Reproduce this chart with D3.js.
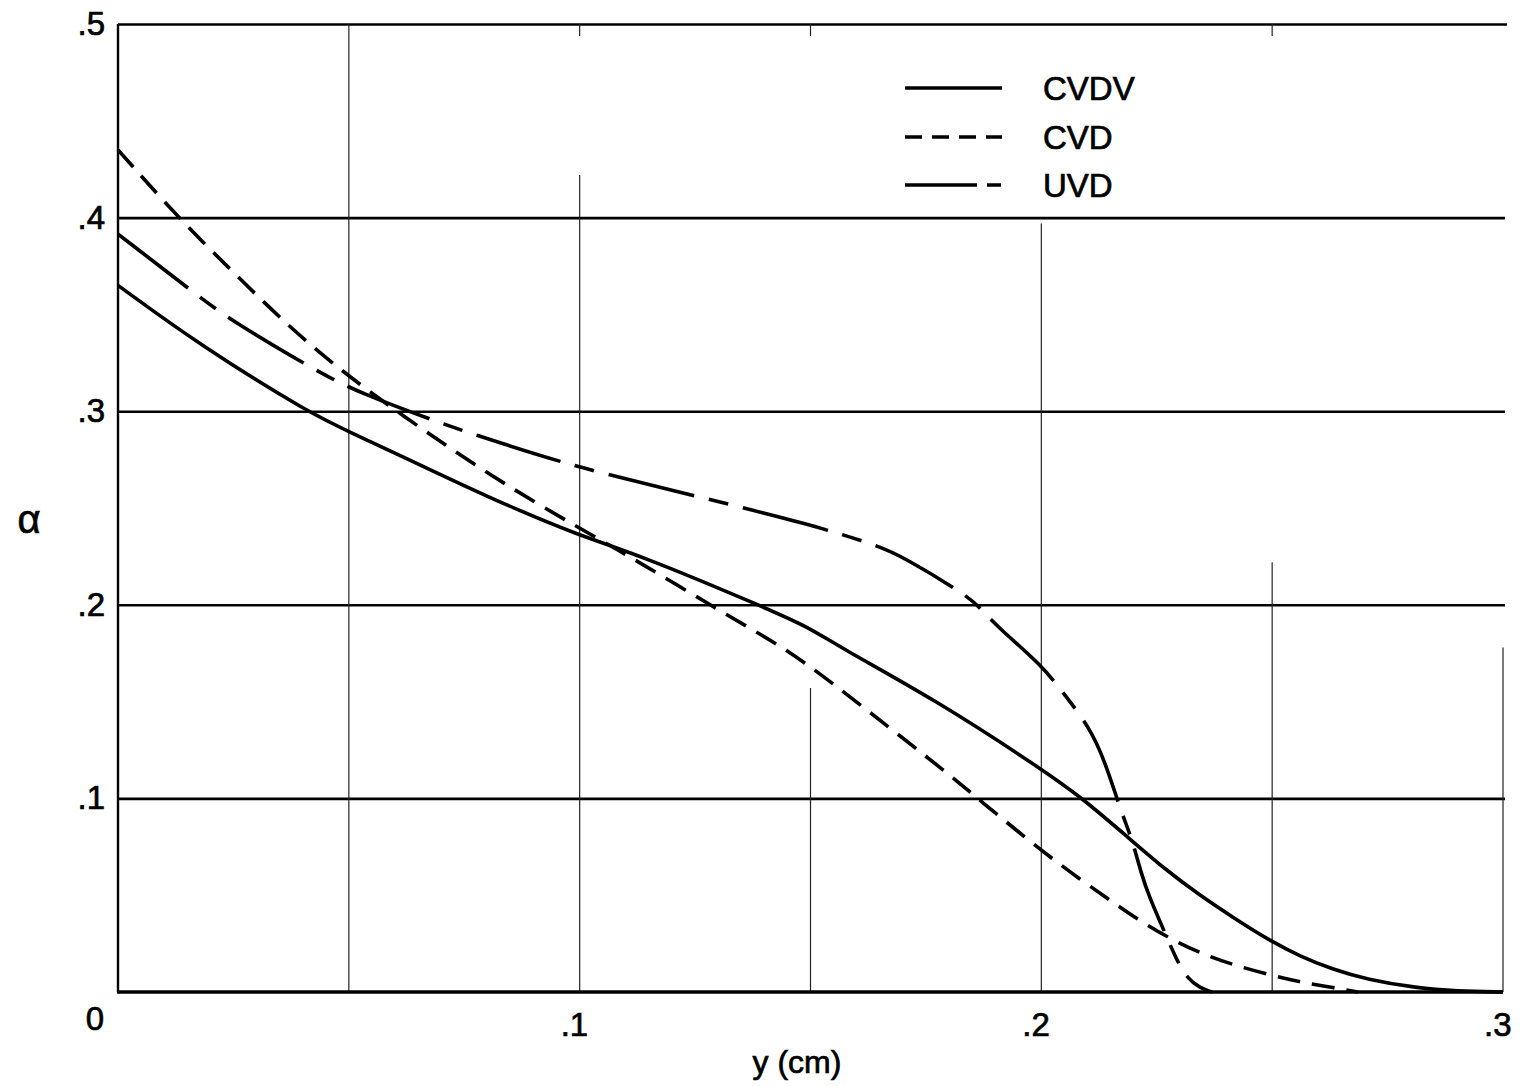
<!DOCTYPE html>
<html>
<head>
<meta charset="utf-8">
<script src="https://cdn.jsdelivr.net/npm/d3@7"></script>
<style>
  html, body { margin: 0; padding: 0; background: #fff; }
  svg { display: block; }
  text { font-family: "Liberation Sans", Arial, Helvetica, sans-serif; fill: #000; stroke: #000; stroke-width: 0.7px; }
</style>
</head>
<body>
<svg id="chart" width="1527" height="1086"></svg>
<script>
// ---- data: y (cm) vs alpha ----
const xTicks = [0.1, 0.2, 0.3];
const xTickLabels = [".1", ".2", ".3"];
const yTicks = [0.1, 0.2, 0.3, 0.4, 0.5];
const yTickLabels = [".1", ".2", ".3", ".4", ".5"];
const seriesNames = ["CVDV", "CVD", "UVD"];

const cvdv = [
  [0, 0.365], [0.0178, 0.334], [0.0422, 0.298], [0.0496, 0.290], [0.0719, 0.265],
  [0.0827, 0.253], [0.0996, 0.236], [0.113, 0.2257], [0.1397, 0.199], [0.150, 0.188],
  [0.156, 0.1785], [0.177, 0.151], [0.200, 0.1153], [0.209, 0.0999], [0.219, 0.0794],
  [0.227, 0.0630], [0.234, 0.0505], [0.2415, 0.0385], [0.2495, 0.0265], [0.256, 0.0185],
  [0.263, 0.0118], [0.2705, 0.0065], [0.2814, 0.0020], [0.290, 0.0005], [0.300, 0.000]
];

const cvd = [
  [0, 0.435], [0.0134, 0.399], [0.0249, 0.372], [0.0351, 0.348], [0.0466, 0.324],
  [0.0611, 0.2985], [0.0812, 0.2657], [0.0996, 0.240], [0.113, 0.222], [0.1289, 0.1989],
  [0.1427, 0.180], [0.150, 0.168], [0.1586, 0.1525], [0.1813, 0.110], [0.1863, 0.0997],
  [0.200, 0.073], [0.2088, 0.0575], [0.2149, 0.0474], [0.2214, 0.0366], [0.2279, 0.0275],
  [0.2344, 0.0201], [0.2415, 0.014], [0.2502, 0.0084], [0.256, 0.0052], [0.261, 0.0032],
  [0.2686, 0.000]
];

const uvd = [
  [0, 0.3915], [0.0184, 0.3576], [0.0249, 0.3464], [0.0438, 0.3196], [0.0524, 0.3094],
  [0.0713, 0.2925], [0.0827, 0.2837], [0.0996, 0.2709], [0.126, 0.2557], [0.150, 0.2415],
  [0.1644, 0.2307], [0.1698, 0.2251], [0.1841, 0.2046], [0.1867, 0.1983], [0.191, 0.1875],
  [0.200, 0.1690], [0.2051, 0.1535], [0.2105, 0.1365], [0.2138, 0.1189], [0.2166, 0.0982],
  [0.2183, 0.0871], [0.2199, 0.0768], [0.2216, 0.0614], [0.2235, 0.0484], [0.2257, 0.0365],
  [0.2294, 0.0159], [0.2316, 0.0071], [0.2344, 0.002], [0.2370, 0.000]
];

// drafted vertical rules: [x, alpha where the rule starts]; they run down to alpha = 0
const vRules = [[0.05, 0.5], [0.1, 0.422], [0.15, 0.157], [0.2, 0.397], [0.25, 0.222], [0.3, 0.178]];
// short stubs hanging from the top border
const topStubs = [0.1, 0.15, 0.25];

// ---- layout ----
const svg = d3.select("#chart");
const x = d3.scaleLinear().domain([0, 0.3]).range([118, 1503]);
const y = d3.scaleLinear().domain([0, 0.5]).range([992, 24]);

const styles = {
  CVDV: { dash: null, legendDash: null },
  CVD: { dash: "23,12", legendDash: "17,10" },
  UVD: { dash: "88,15,20,15", legendDash: "72,10,14,10" }
};

// horizontal rules through the y axis
const yAxis = d3.axisLeft(y)
  .tickValues(yTicks)
  .tickSize(-(x(0.3) + 2 - x(0)))
  .tickPadding(13)
  .tickFormat((d, i) => yTickLabels[i]);
const gy = svg.append("g").attr("transform", `translate(${x(0)},0)`).call(yAxis);
gy.select(".domain").remove();
gy.selectAll(".tick line").attr("stroke", "#000").attr("stroke-width", 2.6);
gy.selectAll(".tick text").attr("font-size", 33).attr("fill", "#000").attr("font-family", null);
// top border runs a touch further right
gy.selectAll(".tick").filter(d => d === 0.5).select("line")
  .attr("x2", x(0.3) + 4 - x(0));

// x axis labels
const xAxis = d3.axisBottom(x)
  .tickValues(xTicks)
  .tickSize(0)
  .tickPadding(21)
  .tickFormat((d, i) => xTickLabels[i]);
const gx = svg.append("g").attr("transform", `translate(0,${y(0)})`).call(xAxis);
gx.select(".domain").remove();
gx.selectAll(".tick text")
  .attr("font-size", 33).attr("fill", "#000").attr("font-family", null)
  .attr("text-anchor", "end").attr("dx", 8);

// origin label sits below-left of the corner
svg.append("text")
  .attr("x", x(0) - 23).attr("y", y(0) + 38)
  .attr("text-anchor", "middle").attr("font-size", 33)
  .text("0");

// vertical rules
svg.append("g").selectAll("line").data(vRules).join("line")
  .attr("x1", d => x(d[0])).attr("x2", d => x(d[0]))
  .attr("y1", d => y(d[1])).attr("y2", y(0))
  .attr("stroke", "#222").attr("stroke-width", 1.2);

svg.append("g").selectAll("line").data(topStubs).join("line")
  .attr("x1", d => x(d)).attr("x2", d => x(d))
  .attr("y1", y(0.5)).attr("y2", y(0.5) + 12)
  .attr("stroke", "#222").attr("stroke-width", 1.2);

// frame: left axis and baseline
svg.append("line")
  .attr("x1", x(0)).attr("x2", x(0)).attr("y1", y(0.5)).attr("y2", y(0))
  .attr("stroke", "#000").attr("stroke-width", 2.4);
svg.append("line")
  .attr("x1", x(0) - 1).attr("x2", x(0.3)).attr("y1", y(0)).attr("y2", y(0))
  .attr("stroke", "#000").attr("stroke-width", 3.6);

// curves, smoothed through the read-off points
const line = d3.line()
  .x(d => x(d[0]))
  .y(d => y(d[1]))
  .curve(d3.curveBasis);

const seriesData = [cvdv, cvd, uvd];
svg.append("g").selectAll("path").data(seriesData).join("path")
  .attr("d", line)
  .attr("fill", "none")
  .attr("stroke", "#000")
  .attr("stroke-width", 3.6)
  .attr("stroke-linecap", "butt")
  .attr("stroke-dasharray", (d, i) => styles[seriesNames[i]].dash);

// legend
const legend = svg.append("g");
const legendY = [88, 137, 185];
seriesNames.forEach((name, i) => {
  legend.append("line")
    .attr("x1", 905).attr("x2", 1002)
    .attr("y1", legendY[i]).attr("y2", legendY[i])
    .attr("stroke", "#000").attr("stroke-width", 3.6)
    .attr("stroke-dasharray", styles[name].legendDash);
  legend.append("text")
    .attr("x", 1043).attr("y", legendY[i] + 12)
    .attr("font-size", 33)
    .text(name);
});

// axis titles
svg.append("text")
  .attr("x", 797).attr("y", 1073)
  .attr("text-anchor", "middle").attr("font-size", 32)
  .text("y (cm)");

svg.append("text")
  .attr("x", 29).attr("y", 533)
  .attr("text-anchor", "middle").attr("font-size", 40)
  .text("α");
</script>
</body>
</html>
